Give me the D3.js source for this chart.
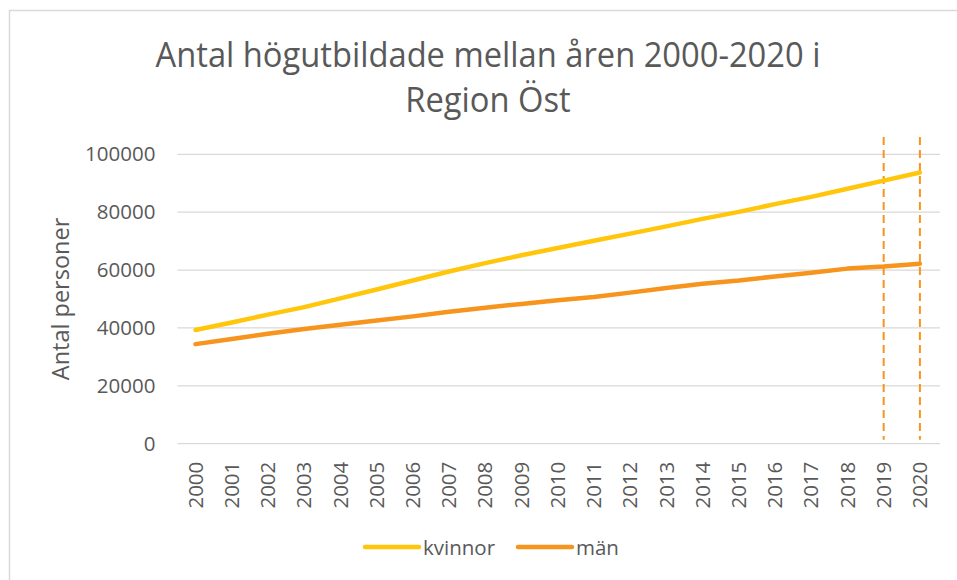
<!DOCTYPE html>
<html>
<head>
<meta charset="utf-8">
<script src="https://cdn.jsdelivr.net/npm/d3@7"></script>
<style>
  body { margin: 0; background: #fff; }
  text { font-family: "Open Sans", sans-serif; fill: #595959; }
</style>
</head>
<body>
<svg id="chart" width="957" height="580"></svg>
<script>
// data
const years = d3.range(2000, 2021).map(String);
const kvinnor = [39300, 41900, 44600, 47200, 50200, 53300, 56400, 59500, 62400, 65100,
                 67600, 70100, 72600, 75100, 77700, 80100, 82800, 85300, 88100, 90900, 93700];
const man = [34400, 36200, 38000, 39600, 41100, 42600, 44000, 45600, 47000, 48300,
             49600, 50700, 52200, 53800, 55300, 56400, 57800, 59100, 60500, 61200, 62200];
const seriesNames = ["kvinnor", "män"];
const seriesColors = ["#FFC60B", "#F7941E"];
const markedYears = ["2019", "2020"];
const yTicks = [0, 20000, 40000, 60000, 80000, 100000];
const titleLines = ["Antal högutbildade mellan åren 2000-2020 i", "Region Öst"];
const yTitle = "Antal personer";

const svg = d3.select("#chart");
const plotLeft = 177.4, plotRight = 938, plotTop = 154.3, plotBottom = 443.7;

// chart border (runs off the right and bottom edge)
svg.append("rect")
    .attr("x", 9.5).attr("y", 10.5)
    .attr("width", 980).attr("height", 600)
    .attr("fill", "none")
    .attr("stroke", "#D9D9D9")
    .attr("stroke-width", 1.5);

let xScale = d3.scaleBand()
    .domain(years)
    .range([plotLeft, plotRight]);
let yScale = d3.scaleLinear()
    .domain([0, 100000])
    .range([plotBottom, plotTop]);
let xc = d => xScale(d) + xScale.bandwidth() / 2;

// title, squeezed to match the narrow original face
let title = svg.append("g");
let tl = title.selectAll("text")
    .data(titleLines)
    .enter()
    .append("text")
    .attr("x", 0)
    .attr("y", (d, i) => 67 + i * 45)
    .attr("text-anchor", "middle")
    .style("font-size", "34px")
    .text(d => d);
let w = tl.node().getComputedTextLength();
title.attr("transform", `translate(488,0) scale(${665 / w},1)`);

// gridlines
svg.append("g")
    .selectAll("line")
    .data(yTicks)
    .enter()
    .append("line")
    .attr("x1", plotLeft)
    .attr("x2", 940)
    .attr("y1", d => yScale(d))
    .attr("y2", d => yScale(d))
    .attr("stroke", "#D9D9D9")
    .attr("stroke-width", 1.3);

// y axis labels
let y_axis = d3.axisLeft(yScale)
    .tickValues(yTicks)
    .tickFormat(d3.format("d"))
    .tickSize(0)
    .tickPadding(22);
svg.append("g")
    .attr("transform", `translate(${plotLeft},0)`)
    .call(y_axis)
    .call(g => g.select(".domain").remove())
    .selectAll("text")
    .style("font-size", "20.5px")
    .style("font-family", "\"Open Sans\", sans-serif")
    .attr("fill", "#595959");

// x axis labels, rotated
let x_axis = d3.axisBottom(xScale).tickSize(0).tickPadding(0);
svg.append("g")
    .attr("transform", `translate(0,${plotBottom})`)
    .call(x_axis)
    .call(g => g.select(".domain").remove())
    .selectAll("text")
    .style("font-size", "20.5px")
    .style("font-family", "\"Open Sans\", sans-serif")
    .attr("fill", "#595959")
    .attr("text-anchor", "end")
    .attr("y", 0)
    .attr("dy", "0.35em")
    .attr("transform", "translate(0,18) rotate(-90)");

// y title
svg.append("text")
    .attr("transform", `translate(69,${(plotTop + plotBottom) / 2}) rotate(-90)`)
    .attr("text-anchor", "middle")
    .style("font-size", "23.5px")
    .text(yTitle);

// dashed markers
svg.append("g")
    .selectAll("line")
    .data(markedYears)
    .enter()
    .append("line")
    .attr("x1", d => xc(d))
    .attr("x2", d => xc(d))
    .attr("y1", yScale(106000))
    .attr("y2", plotBottom - 4)
    .attr("stroke", seriesColors[1])
    .attr("stroke-width", 2)
    .attr("stroke-dasharray", "8,5");

// lines
let line = d3.line()
    .x((d, i) => xc(years[i]))
    .y(d => yScale(d));
svg.append("g")
    .selectAll("path")
    .data([kvinnor, man])
    .enter()
    .append("path")
    .attr("d", d => line(d))
    .attr("fill", "none")
    .attr("stroke", (d, i) => seriesColors[i])
    .attr("stroke-width", 4.5)
    .attr("stroke-linecap", "round")
    .attr("stroke-linejoin", "round");

// legend
let legendX = [365, 518];
let legend = svg.append("g")
    .selectAll("g")
    .data(seriesNames)
    .enter()
    .append("g")
    .attr("transform", (d, i) => `translate(${legendX[i]},547)`);
legend.append("line")
    .attr("x1", 0).attr("x2", 54)
    .attr("stroke", (d, i) => seriesColors[i])
    .attr("stroke-width", 4.5)
    .attr("stroke-linecap", "round");
legend.append("text")
    .attr("x", 58)
    .attr("y", 8)
    .style("font-size", "20.5px")
    .text(d => d);
</script>
</body>
</html>
